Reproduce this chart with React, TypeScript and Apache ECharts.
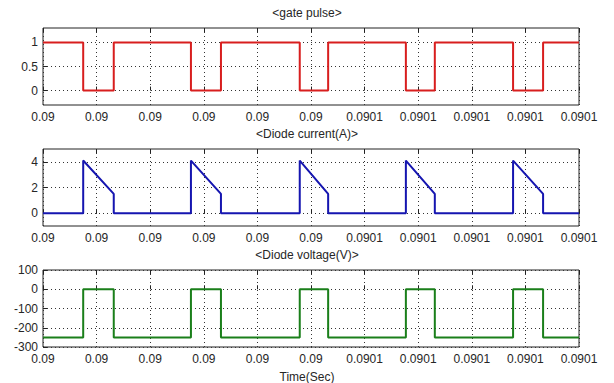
import React, { useEffect, useRef } from "react";
import * as echarts from "echarts";

// time axis: microseconds after 0.09 s, ticks every 10 µs
const xTickLabels = ["0.09", "0.09", "0.09", "0.09", "0.09", "0.09", "0.0901", "0.0901", "0.0901", "0.0901", "0.0901"];
// gate turn-off (falling) and turn-on (rising) instants, µs after 0.09 s
const fallTimes = [7.5, 27.6, 47.9, 67.7, 87.7];
const riseTimes = [13.2, 33.2, 53.2, 73.1, 93.3];
const gateHigh = 1;
const gateLow = 0;
const currentPeak = [4.1, 4.1, 4.1, 4.1, 4.1];
const currentEnd = [1.5, 1.5, 1.5, 1.5, 1.5];
const voltageOn = 0;
const voltageOff = -250;

const titles = ["<gate pulse>", "<Diode current(A)>", "<Diode voltage(V)>"];
const xAxisName = "Time(Sec)";
const yTicks1 = [0, 0.5, 1];
const yTicks2 = [0, 2, 4];

function buildGate() {
  const d: number[][] = [[0, gateHigh]];
  fallTimes.forEach((f, i) => {
    const r = riseTimes[i];
    d.push([f, gateHigh], [f, gateLow], [r, gateLow], [r, gateHigh]);
  });
  d.push([100, gateHigh]);
  return d;
}
function buildCurrent() {
  const d: number[][] = [[0, 0]];
  fallTimes.forEach((f, i) => {
    const r = riseTimes[i];
    d.push([f, 0], [f, currentPeak[i]], [r, currentEnd[i]], [r, 0]);
  });
  d.push([100, 0]);
  return d;
}
function buildVoltage() {
  const d: number[][] = [[0, voltageOff]];
  fallTimes.forEach((f, i) => {
    const r = riseTimes[i];
    d.push([f, voltageOff], [f, voltageOn], [r, voltageOn], [r, voltageOff]);
  });
  d.push([100, voltageOff]);
  return d;
}

const FONT = "Liberation Sans, Arial, sans-serif";
const TXT = "#262626";
const gridTops = [28, 149, 270];
const titleTops = [7, 128, 249];

export default function App() {
  const ref = useRef<HTMLDivElement>(null);
  useEffect(() => {
    if (!ref.current) return;
    const chart = echarts.init(ref.current, null, { renderer: "svg" });
    const dotted = { show: true, lineStyle: { color: "#333", width: 1, type: [1, 3] as any } };
    const grids = gridTops.map((t) => ({
      left: 43, width: 536, top: t, height: 77, show: true,
      borderColor: "#222", borderWidth: 1, backgroundColor: "#fff",
    }));
    const xAxes: any[] = [];
    gridTops.forEach((_, gi) => {
      xAxes.push({
        type: "value", gridIndex: gi, min: 0, max: 100, interval: 10,
        axisLine: { show: false },
        axisTick: { show: true, inside: true, length: 4, lineStyle: { color: "#222" } },
        axisLabel: {
          color: TXT, fontSize: 12, fontFamily: FONT, margin: 6,
          formatter: (v: number) => xTickLabels[Math.round(v / 10)] ?? "",
        },
        splitLine: dotted,
      });
      xAxes.push({
        type: "value", gridIndex: gi, position: "top", min: 0, max: 100, interval: 10,
        axisLine: { show: false },
        axisTick: { show: true, inside: true, length: 4, lineStyle: { color: "#222" } },
        axisLabel: { show: false }, splitLine: { show: false },
      });
    });
    const yLabel = { color: TXT, fontSize: 12, fontFamily: FONT, margin: 5 };
    const yTick = { show: true, inside: true, length: 4, lineStyle: { color: "#222" } };
    const yAxes: any[] = [
      {
        type: "value", gridIndex: 0, min: -0.3, max: 1.3,
        axisLine: { show: false },
        axisTick: { ...yTick, customValues: yTicks1 },
        axisLabel: { ...yLabel, customValues: yTicks1, formatter: (v: number) => String(v) },
        splitLine: dotted,
      },
      {
        type: "value", gridIndex: 1, min: -1, max: 5,
        axisLine: { show: false },
        axisTick: { ...yTick, customValues: yTicks2 },
        axisLabel: { ...yLabel, customValues: yTicks2, formatter: (v: number) => String(v) },
        splitLine: dotted,
      },
      {
        type: "value", gridIndex: 2, min: -300, max: 100, interval: 100,
        axisLine: { show: false },
        axisTick: yTick,
        axisLabel: yLabel,
        splitLine: dotted,
      },
    ];
    const line = (data: number[][], gi: number, color: string) => ({
      type: "line", xAxisIndex: gi * 2, yAxisIndex: gi, data, showSymbol: false,
      lineStyle: { color, width: 2 }, z: 5,
    });
    chart.setOption({
      animation: false,
      backgroundColor: "#fff",
      title: titles.map((t, i) => ({
        text: t, left: "center", top: titleTops[i], padding: 0,
        textStyle: { color: TXT, fontSize: 12, fontWeight: "normal", fontFamily: FONT },
      })),
      graphic: [
        { type: "text", left: "center", top: 371, style: { text: xAxisName, fill: TXT, font: `12px ${FONT}` } },
      ],
      grid: grids,
      xAxis: xAxes,
      yAxis: yAxes,
      series: [
        line(buildGate(), 0, "#d81e1e"),
        line(buildCurrent(), 1, "#1515b0"),
        line(buildVoltage(), 2, "#1a7f1a"),
      ],
    });
    return () => chart.dispose();
  }, []);
  return <div ref={ref} style={{ position: "fixed", left: 0, top: 0, width: 614, height: 383 }} />;
}
